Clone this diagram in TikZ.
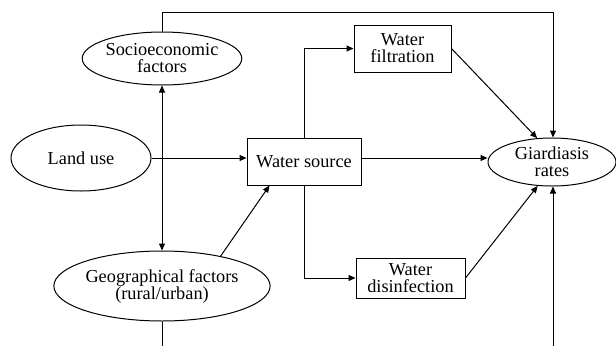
\documentclass[tikz,border=0pt]{standalone}
\usepackage{fontspec}
\newfontfamily\tms{Liberation Serif}
\usetikzlibrary{shapes.geometric,arrows.meta,calc}
\begin{document}
\begin{tikzpicture}[x=1pt,y=-1pt,
  txt/.style={font=\tms\fontsize{18.3}{17}\selectfont, align=center, inner sep=0pt},
  oval/.style={txt, draw, ellipse, line width=1pt},
  boxn/.style={txt, draw, rectangle, line width=1pt},
  conn/.style={line width=1pt},
  arr/.style={conn, -{Triangle[length=7pt,width=6pt]}},
  darr/.style={conn, {Triangle[length=7pt,width=6pt]}-{Triangle[length=7pt,width=6pt]}}]
\useasboundingbox (0,0) rectangle (616,346);
\node[oval, minimum width=158, minimum height=53] (soc) at (162,58.5) {Socioeconomic\\factors};
\node[oval, minimum width=140, minimum height=66] (land) at (81,158) {Land use};
\node[oval, minimum width=205, minimum height=70] (geo) at (162,286) {Geographical factors\\(rural/urban)};
\node[boxn, minimum width=114, minimum height=47] (ws) at (304,161.5) {Water source};
\node[boxn, minimum width=97, minimum height=47] (filt) at (402.5,48.5) {Water\\filtration};
\node[boxn, minimum width=109, minimum height=40] (dis) at (410.5,278) {Water\\disinfection};
\node[oval, minimum width=128, minimum height=48] (gia) at (552,162) {Giardiasis\\rates};
\coordinate (tr) at (553,12);
\coordinate (b1) at (162,346);
\coordinate (b2) at (553,346);
\draw[arr] (soc.north) |- (tr) -- (tr |- gia.north);
\draw[arr] (land.east) -- (land.east -| ws.west);
\draw[darr] (soc.south) -- (geo.north);
\draw[arr] (geo.27) -- ($(ws.south west)!0.2!(ws.south east)$);
\draw[arr] (ws.north) |- (filt.west);
\draw[arr] (ws.east |- land.east) -- (gia.west |- land.east);
\draw[arr] (filt.east) -- (gia.122);
\draw[arr] (ws.south) |- (dis.west);
\draw[arr] (dis.east) -- (gia.239);
\draw[conn] (geo.south) -- (b1);
\draw[arr] (b2) -- (b2 |- gia.south);
\end{tikzpicture}
\end{document}
